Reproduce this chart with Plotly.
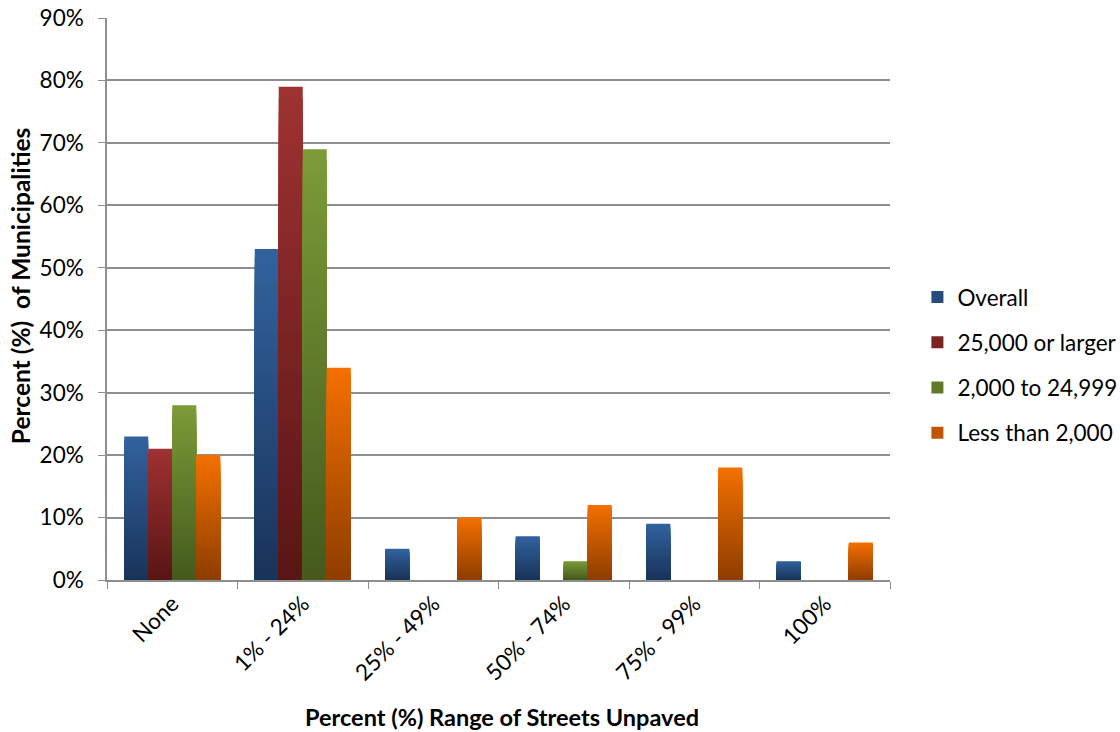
import plotly.graph_objects as go

# Share of municipalities by percentage range of unpaved streets
categories = ["None", "1% - 24%", "25% - 49%", "50% - 74%", "75% - 99%", "100%"]
series_names = ["Overall", "25,000 or larger", "2,000 to 24,999", "Less than 2,000"]
overall = [23, 53, 5, 7, 9, 3]
large = [21, 79, 0, 0, 0, 0]
medium = [28, 69, 0, 3, 0, 0]
small = [20, 34, 10, 12, 18, 6]
series_values = [overall, large, medium, small]

# (top colour, bottom colour) for the vertical gradient on each series
gradients = [
    ((0x32, 0x63, 0x9F), (0x19, 0x33, 0x59)),
    ((0x9F, 0x32, 0x32), (0x59, 0x15, 0x15)),
    ((0x7C, 0x9C, 0x38), (0x44, 0x59, 0x1C)),
    ((0xF4, 0x70, 0x00), (0x8D, 0x3D, 0x00)),
]

BANDS = 40
BAR_W = 0.184
FONT = "Lato, 'Open Sans', sans-serif"
TICK_SIZE = 22.5
TITLE_SIZE = 23.5


def mix(top, bottom, t):
    r, g, b = (round(bottom[i] + (top[i] - bottom[i]) * t) for i in range(3))
    return f"rgb({r},{g},{b})"


fig = go.Figure()

for s, (name, vals) in enumerate(zip(series_names, series_values)):
    top, bottom = gradients[s]
    xs, heights, colors = [], [], []
    # Nested bars from the baseline, tallest (lightest) first, so each
    # shorter, darker one paints the lower part: a seamless vertical gradient.
    for cat, v in zip(categories, vals):
        frac = v / 100.0
        for k in range(BANDS):
            n = BANDS - k
            xs.append(cat)
            heights.append(frac * n / BANDS)
            colors.append(mix(top, bottom, (n - 0.5) / BANDS))
    offset = -2 * BAR_W + s * BAR_W
    fig.add_trace(go.Bar(
        x=xs, y=heights, width=BAR_W, offset=offset,
        marker=dict(color=colors, line=dict(width=0)),
        showlegend=False, hoverinfo="skip", legendgroup=name,
    ))
    # legend swatch
    fig.add_trace(go.Bar(
        x=[categories[0]], y=[0], width=BAR_W, offset=offset, name=name,
        marker=dict(color=mix(top, bottom, 0.5), line=dict(width=0)),
        legendgroup=name, showlegend=True, hoverinfo="skip",
    ))

grid = "#8E8E8E"
fig.update_layout(
    width=1120, height=732,
    margin=dict(l=107, r=230, t=18, b=152, autoexpand=False),
    paper_bgcolor="white", plot_bgcolor="white",
    barmode="overlay",
    font=dict(family=FONT, size=TICK_SIZE, color="#000000"),
    legend=dict(
        x=1.035, xanchor="left", y=0.383, yanchor="middle",
        traceorder="grouped", tracegroupgap=13,
        font=dict(size=TICK_SIZE), itemwidth=30,
    ),
    xaxis=dict(
        type="category", categoryorder="array", categoryarray=categories,
        range=[-0.5, 5.5], tickson="boundaries", ticks="outside", ticklen=7,
        tickcolor=grid, showline=True, linecolor=grid, linewidth=1.5,
        showgrid=False, tickangle=-45, tickfont=dict(size=TICK_SIZE),
        automargin=False,
    ),
    yaxis=dict(
        range=[0, 0.9], dtick=0.1, tickformat=".0%", ticks="outside",
        ticklen=7, tickcolor=grid, showline=True, linecolor=grid,
        linewidth=1.5, showgrid=True, gridcolor=grid, gridwidth=1.5,
        zeroline=False, tickfont=dict(size=TICK_SIZE), ticklabelstandoff=10,
        automargin=False,
    ),
    annotations=[
        dict(text="<b>Percent (%) Range of Streets Unpaved</b>",
             xref="paper", yref="paper", x=0.505, y=-0.2438,
             xanchor="center", yanchor="middle", showarrow=False,
             font=dict(size=TITLE_SIZE)),
        dict(text="<b>Percent (%)\u00a0 of Municipalities</b>",
             xref="paper", yref="paper", x=-0.111, y=0.523, textangle=-90,
             xanchor="center", yanchor="middle", showarrow=False,
             font=dict(size=24.5)),
    ],
)

fig.write_html("out.html")
